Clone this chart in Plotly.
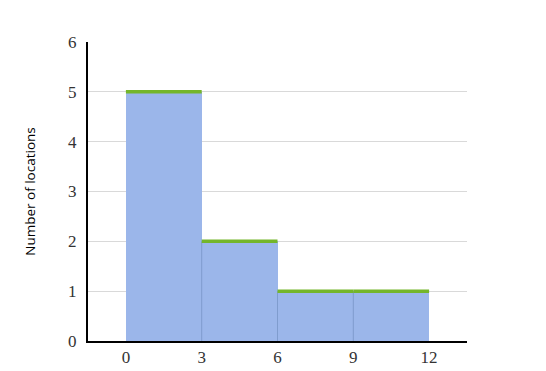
import plotly.graph_objects as go

bin_starts = [0, 3, 6, 9]
bin_width = 3
counts = [5, 2, 1, 1]
x_ticks = [0, 3, 6, 9, 12]
y_ticks = [0, 1, 2, 3, 4, 5, 6]

bar_color = "#9bb6ea"
top_color = "#74b62a"
edge_color = "#7f9cce"

fig = go.Figure()
fig.add_trace(go.Bar(
    x=[s + bin_width / 2 for s in bin_starts], y=counts, width=bin_width,
    marker=dict(color=bar_color, line=dict(width=0)), hoverinfo="skip"))

# interior bin boundaries
for i in range(1, len(bin_starts)):
    h = min(counts[i - 1], counts[i])
    fig.add_trace(go.Scatter(x=[bin_starts[i], bin_starts[i]], y=[0, h], mode="lines",
                             line=dict(color=edge_color, width=1), hoverinfo="skip"))

# green tops
for s, c in zip(bin_starts, counts):
    fig.add_trace(go.Scatter(x=[s, s + bin_width], y=[c, c], mode="lines",
                             line=dict(color=top_color, width=3.5), hoverinfo="skip"))

serif = "Liberation Serif"
fig.update_layout(
    width=546, height=371, showlegend=False,
    margin=dict(l=88, r=79, t=42, b=30),
    plot_bgcolor="white", paper_bgcolor="white", bargap=0,
    xaxis=dict(range=[-1.5, 13.5], tickvals=x_ticks, showgrid=False, zeroline=False,
               showline=True, linecolor="black", linewidth=2, ticks="", automargin=False,
               tickfont=dict(family=serif, size=17, color="#333"), fixedrange=True),
    yaxis=dict(range=[0, 6], tickvals=y_ticks, showgrid=True, gridcolor="#d9d9d9",
               gridwidth=1, zeroline=False, showline=True, linecolor="black", linewidth=2,
               ticks="", ticklabelstandoff=6, automargin=False,
               tickfont=dict(family=serif, size=17, color="#333"),
               title=dict(text="Number of locations", standoff=29,
                          font=dict(family="Open Sans", size=13.5, color="black"))),
)
fig.write_html("out.html")
